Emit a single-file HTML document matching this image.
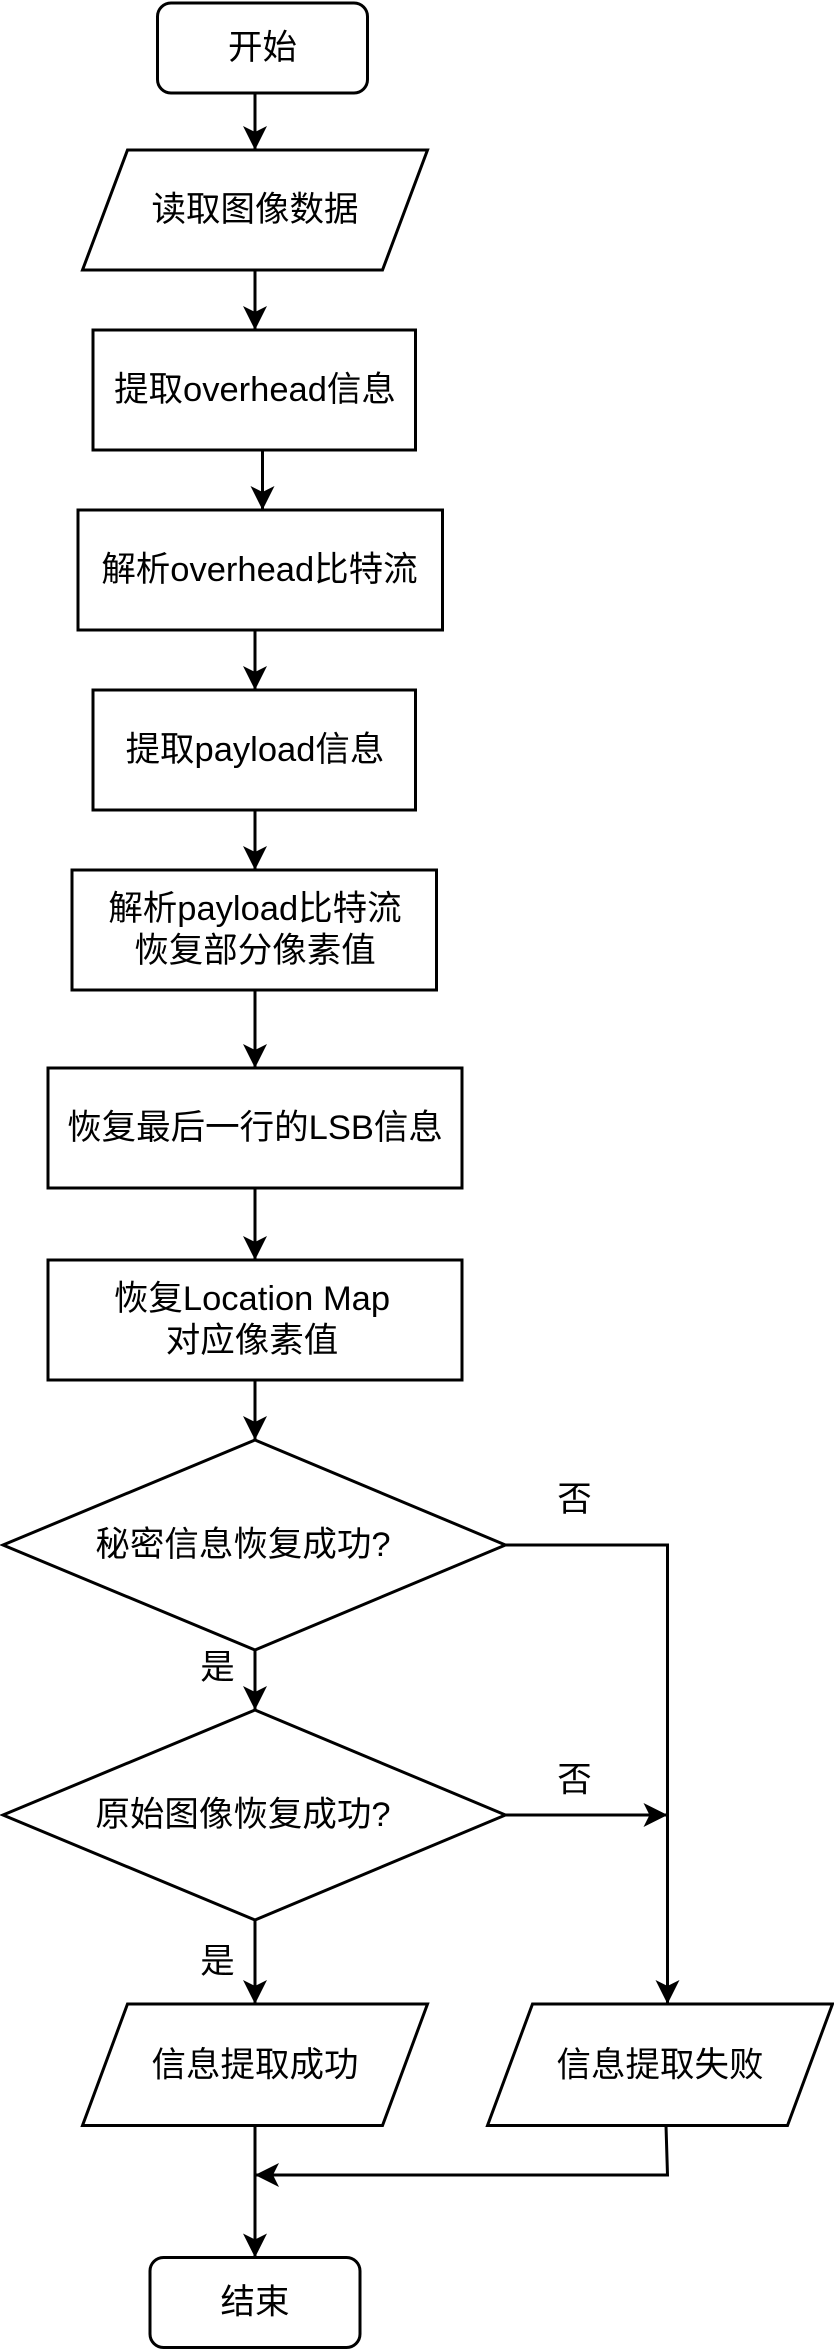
<!DOCTYPE html>
<html><head><meta charset="utf-8"><style>
html,body{margin:0;padding:0;background:#fff;}
svg{display:block;}
text{font-family:"Liberation Sans","Noto Sans CJK SC",sans-serif;font-size:23px;fill:#000;text-anchor:middle;dominant-baseline:central;}
</style></head><body>
<svg width="834" height="2352" viewBox="0 0 556 1568" xmlns="http://www.w3.org/2000/svg">
<defs>
<marker id="b" markerWidth="18" markerHeight="18" refX="16" refY="8" orient="auto" markerUnits="userSpaceOnUse">
<path d="M0,0 L16,8 L0,16 L4,8 Z" fill="#000"/></marker></defs>
<g fill="#fff" stroke="#000" stroke-width="2">
<rect x="105" y="2" width="140" height="60" rx="9"/>
<polygon points="85,100 285,100 255,180 55,180"/>
<rect x="62" y="220" width="215" height="80"/>
<rect x="52" y="340" width="243" height="80"/>
<rect x="62" y="460" width="215" height="80"/>
<rect x="48" y="580" width="243" height="80"/>
<rect x="32" y="712" width="276" height="80"/>
<rect x="32" y="840" width="276" height="80"/>
<polygon points="2,1030 170,960 337,1030 170,1100"/>
<polygon points="2,1210 170,1140 337,1210 170,1280"/>
<polygon points="85,1336 285,1336 255,1417 55,1417"/>
<polygon points="355,1336 555,1336 525,1417 325,1417"/>
<rect x="100" y="1505" width="140" height="60" rx="9"/>
</g>
<g stroke="#000" stroke-width="2" fill="none" marker-end="url(#b)">
<line x1="170" y1="62" x2="170" y2="100"/>
<line x1="170" y1="180" x2="170" y2="220"/>
<line x1="175" y1="300" x2="175" y2="340"/>
<line x1="170" y1="420" x2="170" y2="460"/>
<line x1="170" y1="540" x2="170" y2="580"/>
<line x1="170" y1="660" x2="170" y2="712"/>
<line x1="170" y1="792" x2="170" y2="840"/>
<line x1="170" y1="920" x2="170" y2="960"/>
<polyline points="337,1030 445,1030 445,1336"/>
<line x1="170" y1="1100" x2="170" y2="1140"/>
<line x1="337" y1="1210" x2="445" y2="1210"/>
<line x1="170" y1="1280" x2="170" y2="1336"/>
<polyline points="444,1417 445,1450 170,1450"/>
<line x1="170" y1="1417" x2="170" y2="1505"/>
</g>
<text x="175" y="32">开始</text>
<text x="170" y="140">读取图像数据</text>
<text x="170" y="260">提取overhead信息</text>
<text x="173" y="380">解析overhead比特流</text>
<text x="170" y="500">提取payload信息</text>
<text x="170" y="606">解析payload比特流</text>
<text x="170" y="634">恢复部分像素值</text>
<text x="170" y="752">恢复最后一行的LSB信息</text>
<text x="168" y="866">恢复Location Map</text>
<text x="168" y="894">对应像素值</text>
<text x="162" y="1030">秘密信息恢复成功?</text>
<text x="162" y="1210">原始图像恢复成功?</text>
<text x="383" y="1000">否</text>
<text x="383" y="1187">否</text>
<text x="145" y="1112">是</text>
<text x="145" y="1308">是</text>
<text x="170" y="1377">信息提取成功</text>
<text x="440" y="1377">信息提取失败</text>
<text x="170" y="1535">结束</text>
</svg>
</body></html>
